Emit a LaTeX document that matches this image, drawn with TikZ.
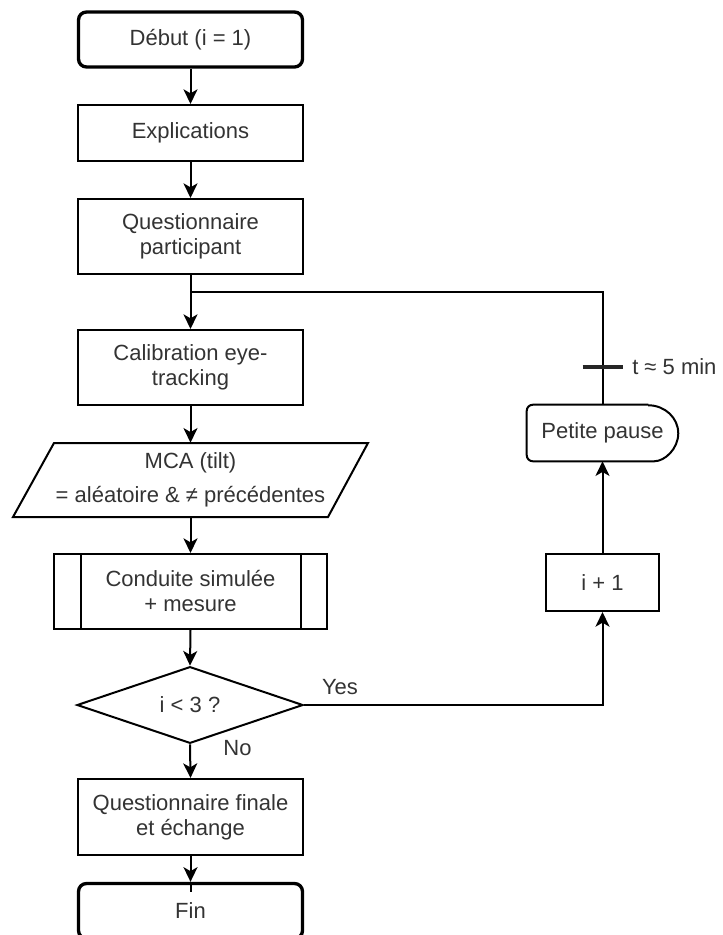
\documentclass[tikz,border=0pt]{standalone}
\usepackage{fontspec}
\setmainfont{Liberation Sans}
\usetikzlibrary{arrows.meta,shapes.geometric,calc}
\definecolor{txt}{HTML}{333333}
\tikzset{
  lw/.style={line width=1.5pt},
  conn/.style={line width=1.5pt, -{Stealth[length=11pt,width=10.5pt,inset=3pt]}},
}
\begin{document}
\begin{tikzpicture}[x=0.75pt,y=-0.75pt,
  every node/.style={font=\fontsize{16.5}{18.75}\selectfont, text=txt, align=center, inner sep=0pt},
  procbox/.style={draw, rectangle, lw, minimum width=168.75pt},
  termbox/.style={draw, rectangle, rounded corners=6pt, line width=2.5pt, minimum width=168pt, minimum height=41.25pt},
  lbl/.style={font=\fontsize{16.5}{18.75}\selectfont}
]
\useasboundingbox (0,0) rectangle (723,935);

% main column
\node[termbox] (debut) at (190.5,39.5) {Début (i = 1)};
\node[procbox, minimum height=42pt] (expl) at (190.5,133) {Explications};
\node[procbox, minimum height=56.25pt] (qp) at (190.5,236.5) {Questionnaire\\participant};
\node[procbox, minimum height=56.25pt] (calib) at (190.5,367.5) {Calibration eye-\\tracking};
\node[minimum width=236pt, minimum height=55.5pt] (mca) at (190.5,480) {MCA (tilt)\\[6.75pt]= aléatoire \& ≠ précédentes};
\draw[lw] ($(mca)+(-136.5,-37)$) -- ($(mca)+(177.5,-37)$) -- ($(mca)+(137.5,37)$) -- ($(mca)+(-177.5,37)$) -- cycle;
\node[draw, lw, rectangle, minimum width=204.75pt, minimum height=56.25pt] (cond) at (190.5,591.5) {Conduite simulée\\+ mesure};
\draw[lw] ([xshift=21pt]cond.north west) -- ([xshift=21pt]cond.south west);
\draw[lw] ([xshift=-20.25pt]cond.north east) -- ([xshift=-20.25pt]cond.south east);
\node[draw, lw, diamond, minimum width=169.5pt, minimum height=55.5pt] (dia) at (190,705) {i < 3 ?};
\node[procbox, minimum height=57pt] (qf) at (190.5,817) {Questionnaire finale\\et échange};
\node[termbox] (fin) at (190.5,911) {Fin};

% right column
\node[draw, lw, rectangle, minimum width=84.75pt, minimum height=42.75pt] (ip) at (602.5,582.5) {i + 1};
\node[minimum width=113.25pt, minimum height=42pt] (pp) at (602.5,433) {Petite pause};
\draw[lw, rounded corners=4.5pt] ($(pp.north east)+(-30,0)$) -- (pp.north west) -- (pp.south west) -- ($(pp.south east)+(-30,0)$) [sharp corners] arc[start angle=-90,end angle=90,x radius=22.5pt,y radius=21pt];

% connectors
\draw[conn] (debut.south) -- (expl.north);
\draw[conn] (expl.south) -- (qp.north);
\draw[conn] (qp.south) -- (calib.north);
\draw[conn] (calib.south) -- (mca.north);
\draw[conn] (mca.south) -- (cond.north);
\draw[conn] (cond.south) -- (dia.north);
\draw[conn] (dia.south) -- (qf.north);
\draw[conn] (qf.south) -- (fin.north);
\draw[lw] (fin.north) -- ++(0,10);
\draw[conn] (dia.east) -| (ip.south);
\draw[conn] (ip.north) -- (pp.south);
\coordinate (j) at (190.5,292);
\draw[lw] (j) -| (pp.north);
\coordinate (tk) at (602.5,367);
\draw[line width=2.5pt, draw=black!85] (tk) ++(-20,0) -- ++(40,0);

% labels
\node[lbl] (yes) at (340,687) {Yes};
\node[lbl] (no) at (237.5,748) {No};
\node[lbl, anchor=west] (tl) at (632,367) {t ≈ 5 min};
\end{tikzpicture}
\end{document}
